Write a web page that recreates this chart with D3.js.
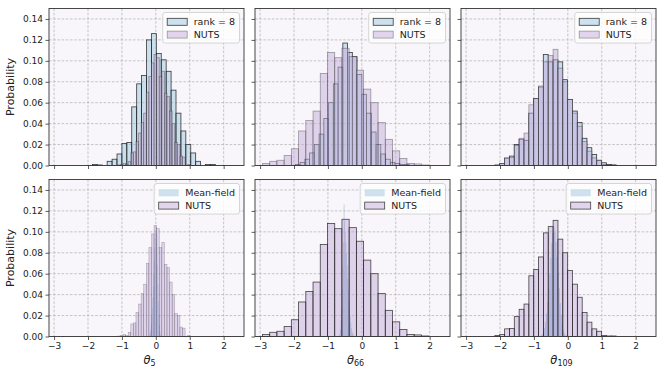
<!DOCTYPE html>
<html>
<head>
<meta charset="utf-8">
<script src="https://cdn.jsdelivr.net/npm/d3@7"></script>
<style>
  body { margin: 0; background: #fff; }
  text { font-family: "DejaVu Sans", sans-serif; fill: #222; }
</style>
</head>
<body>
<div id="chart"></div>
<script>
// ticks and labels
var xTicks = [-3, -2, -1, 0, 1, 2];
var yTicks = [0, 0.02, 0.04, 0.06, 0.08, 0.10, 0.12, 0.14];
var params = ["5", "66", "109"];
var topLabels = ["rank = 8", "NUTS"];
var bottomLabels = ["Mean-field", "NUTS"];

// histograms: [first edge, last edge] and probability per bin
var nuts5Range = [-1.12, 1.016];
var nuts5 = [0.0005, 0.001, 0.002, 0.001, 0.004, 0.012, 0.013, 0.023, 0.031, 0.041, 0.050, 0.070, 0.085, 0.098,
             0.106, 0.103, 0.085, 0.090, 0.069, 0.066, 0.052, 0.040, 0.022, 0.020, 0.009, 0.008, 0.000, 0.001];
var nuts66Range = [-2.93, 1.97];
var nuts66 = [0.002, 0.004, 0.005, 0.0095, 0.016, 0.033, 0.043, 0.052, 0.088, 0.108, 0.103, 0.112,
              0.104, 0.091, 0.073, 0.060, 0.041, 0.025, 0.014, 0.0067, 0.002, 0.0015, 0.0005];
var nuts109Range = [-2.15, 1.425];
var nuts109 = [0.001, 0.002, 0.0073, 0.0076, 0.019, 0.026, 0.031, 0.058, 0.064, 0.076, 0.099, 0.105, 0.111,
               0.093, 0.080, 0.063, 0.050, 0.0375, 0.023, 0.0137, 0.0073, 0.005, 0.001, 0.0005, 0.0005];

var rank5Range = [-1.87, 1.755];
var rank5 = [0.001, 0.0005, 0, 0.004, 0.006, 0.011, 0.021, 0.022, 0.056, 0.078, 0.086, 0.120, 0.126,
             0.107, 0.101, 0.090, 0.072, 0.050, 0.033, 0.020, 0.012, 0.004, 0, 0.001, 0.001];
var rank66Range = [-1.96, 1.40];
var rank66 = [0.001, 0.003, 0.006, 0.012, 0.020, 0.030, 0.045, 0.060, 0.078, 0.094, 0.117, 0.108,
              0.104, 0.087, 0.068, 0.050, 0.032, 0.020, 0.011, 0.006, 0.003, 0.002, 0.001, 0.001];
var rank109Range = [-2.01, 1.422];
var rank109 = [0.002, 0.007, 0.009, 0.020, 0.025, 0.024, 0.050, 0.064, 0.075, 0.106, 0.099, 0.101,
               0.099, 0.082, 0.063, 0.052, 0.041, 0.026, 0.017, 0.0105, 0.005, 0.0026, 0.001, 0.0005];

var mf5Range = [-0.2, 0.16];
var mf5 = [0.001, 0.002, 0.004, 0.007, 0.012, 0.019, 0.027, 0.037, 0.048, 0.060, 0.072, 0.084, 0.094,
           0.101, 0.105, 0.099, 0.086, 0.068, 0.050, 0.034, 0.021, 0.011, 0.005, 0.002, 0.001];
var mf66Range = [-0.68, -0.22];
var mf66 = [0.001, 0.003, 0.007, 0.015, 0.028, 0.045, 0.066, 0.090, 0.126, 0.110, 0.100, 0.090, 0.080,
            0.068, 0.056, 0.045, 0.035, 0.026, 0.019, 0.013, 0.008, 0.005, 0.003, 0.002, 0.001];
var mf109Range = [-0.8, -0.02];
var mf109 = [0.001, 0.002, 0.004, 0.008, 0.014, 0.022, 0.033, 0.046, 0.060, 0.075, 0.089, 0.099, 0.105,
             0.100, 0.090, 0.076, 0.061, 0.046, 0.032, 0.021, 0.012, 0.006, 0.003, 0.001, 0.001];

// styles
var blueStyle = { fill: "#9cc5de", opacity: 0.5, stroke: "#1a1a1a", strokeOpacity: 0.85, sw: 0.8 };
var blueNoEdge = { fill: "#7fa9cc", opacity: 0.7, stroke: "none", strokeOpacity: 0, sw: 0, step: true };
var nutsLight = { fill: "#c3acd9", opacity: 0.5, stroke: "#333", strokeOpacity: 0.45, sw: 0.8 };
var nutsDark = { fill: "#c3acd9", opacity: 0.5, stroke: "#1a1a1a", strokeOpacity: 0.8, sw: 0.8 };
var nutsThin = { fill: "#c3acd9", opacity: 0.5, stroke: "#1a1a1a", strokeOpacity: 0.35, sw: 0.5 };

var panels = [
  { row: 0, col: 0, series: [[rank5Range, rank5, blueStyle], [nuts5Range, nuts5, nutsLight]], labels: topLabels },
  { row: 0, col: 1, series: [[rank66Range, rank66, blueStyle], [nuts66Range, nuts66, nutsLight]], labels: topLabels },
  { row: 0, col: 2, series: [[rank109Range, rank109, blueStyle], [nuts109Range, nuts109, nutsLight]], labels: topLabels },
  { row: 1, col: 0, series: [[mf5Range, mf5, blueNoEdge], [nuts5Range, nuts5, nutsThin]], labels: bottomLabels },
  { row: 1, col: 1, series: [[mf66Range, mf66, blueNoEdge], [nuts66Range, nuts66, nutsDark]], labels: bottomLabels },
  { row: 1, col: 2, series: [[mf109Range, mf109, blueNoEdge], [nuts109Range, nuts109, nutsDark]], labels: bottomLabels }
];

var width = 664, height = 376;
var colX = [49, 255, 461];
var rowY = [8.5, 179.5];
var pw = 195, ph = 157;

var x = d3.scaleLinear().domain([-3.15, 2.6]).range([0, pw]);
var y = d3.scaleLinear().domain([0, 0.15]).range([ph, 0]);

var svg = d3.select("#chart").append("svg")
    .attr("width", width)
    .attr("height", height);

function fmtMinus(d) {
    return String(d).replace("-", "\u2212");
}

var stepArea = d3.area()
    .curve(d3.curveStepAfter)
    .x(function (b) { return x(b.x0); })
    .y0(y(0))
    .y1(function (b) { return y(b.v); });

panels.forEach(function (p, pi) {
    var g = svg.append("g")
        .attr("transform", "translate(" + colX[p.col] + "," + rowY[p.row] + ")");

    g.append("clipPath").attr("id", "clip" + pi)
        .append("rect").attr("width", pw).attr("height", ph);

    g.append("rect")
        .attr("width", pw).attr("height", ph)
        .attr("fill", "#f8f6fa");

    // grid
    var grid = g.append("g").attr("class", "grid");
    grid.selectAll(".vx").data(xTicks).enter().append("line")
        .attr("x1", function (d) { return x(d); })
        .attr("x2", function (d) { return x(d); })
        .attr("y1", 0).attr("y2", ph);
    grid.selectAll(".hy").data(yTicks).enter().append("line")
        .attr("x1", 0).attr("x2", pw)
        .attr("y1", function (d) { return y(d); })
        .attr("y2", function (d) { return y(d); });
    grid.selectAll("line")
        .attr("stroke", "#b8b8b8")
        .attr("stroke-width", 0.8)
        .attr("stroke-dasharray", "2.6,1.6");

    // bars
    var bars = g.append("g").attr("clip-path", "url(#clip" + pi + ")");
    p.series.forEach(function (s) {
        var lo = s[0][0], hi = s[0][1], vals = s[1], st = s[2];
        var step = (hi - lo) / vals.length;
        var bins = vals.map(function (v, i) {
            return { x0: lo + i * step, x1: lo + (i + 1) * step, v: v };
        });
        if (st.step) {
            // very narrow bins: one step outline so they don't vanish
            var pts = bins.concat([{ x0: hi, v: 0 }]);
            bars.append("path")
                .datum(pts)
                .attr("d", stepArea)
                .attr("fill", st.fill)
                .attr("fill-opacity", st.opacity);
            return;
        }
        bars.append("g").selectAll("rect")
            .data(bins.filter(function (b) { return b.v > 0; }))
            .enter()
            .append("rect")
            .attr("x", function (b) { return x(b.x0); })
            .attr("width", function (b) { return x(b.x1) - x(b.x0); })
            .attr("y", function (b) { return y(b.v); })
            .attr("height", function (b) { return y(0) - y(b.v); })
            .attr("fill", st.fill)
            .attr("fill-opacity", st.opacity)
            .attr("stroke", st.stroke)
            .attr("stroke-opacity", st.strokeOpacity)
            .attr("stroke-width", st.sw);
    });

    // axes
    var xAxis = d3.axisBottom(x).tickValues(xTicks).tickSize(3.5).tickPadding(2.5)
        .tickFormat(p.row === 1 ? fmtMinus : "");
    var yAxis = d3.axisLeft(y).tickValues(yTicks).tickSize(3.5).tickPadding(2.5)
        .tickFormat(p.col === 0 ? d3.format(".2f") : "");
    var xa = g.append("g").attr("transform", "translate(0," + ph + ")").call(xAxis);
    var ya = g.append("g").call(yAxis);
    [xa, ya].forEach(function (a) {
        a.select(".domain").remove();
        a.selectAll("line").attr("stroke", "#333").attr("stroke-width", 0.8);
        a.selectAll("text").attr("font-size", "9px").attr("fill", "#222")
            .attr("font-family", "DejaVu Sans");
    });

    g.append("rect")
        .attr("width", pw).attr("height", ph)
        .attr("fill", "none")
        .attr("stroke", "#333")
        .attr("stroke-width", 0.9);

    // legend
    var leg = g.append("g");
    var box = leg.append("rect");
    var texts = p.labels.map(function (lab, i) {
        return leg.append("text")
            .attr("font-size", "9.5px")
            .attr("dy", "0.35em")
            .text(lab);
    });
    var tw = d3.max(texts, function (t) { return t.node().getComputedTextLength(); });
    var bw = 4.5 + 20 + 6.5 + tw + 4.5;
    var bx = pw - 4.5 - bw, by = 4;
    box.attr("x", bx).attr("y", by)
        .attr("width", bw).attr("height", 30.5)
        .attr("rx", 2.5)
        .attr("fill", "#ffffff").attr("fill-opacity", 0.8)
        .attr("stroke", "#cccccc").attr("stroke-width", 0.8);
    p.labels.forEach(function (lab, i) {
        var st = p.series[i][2];
        var cy = by + 9.3 + i * 12.8;
        leg.append("rect")
            .attr("x", bx + 4.5).attr("y", cy - 3.5)
            .attr("width", 20).attr("height", 7)
            .attr("fill", st.step ? "#9cc5de" : st.fill)
            .attr("fill-opacity", st.step ? 0.5 : st.opacity)
            .attr("stroke", st.stroke).attr("stroke-opacity", st.sw === 0.5 ? 0.8 : st.strokeOpacity)
            .attr("stroke-width", st.sw ? 0.8 : 0);
        texts[i].attr("x", bx + 31).attr("y", cy);
    });

    // axis labels
    if (p.col === 0) {
        g.append("text")
            .attr("transform", "translate(-35," + (ph / 2) + ") rotate(-90)")
            .attr("text-anchor", "middle")
            .attr("font-size", "11px")
            .text("Probability");
    }
    if (p.row === 1) {
        var t = g.append("text")
            .attr("x", pw / 2 + 3)
            .attr("y", ph + 27)
            .attr("text-anchor", "middle")
            .attr("font-size", "11.5px");
        t.append("tspan").attr("font-style", "italic").text("\u03b8");
        t.append("tspan").attr("font-size", "8px").attr("dy", "2.5").text(params[p.col]);
    }
});
</script>
</body>
</html>
